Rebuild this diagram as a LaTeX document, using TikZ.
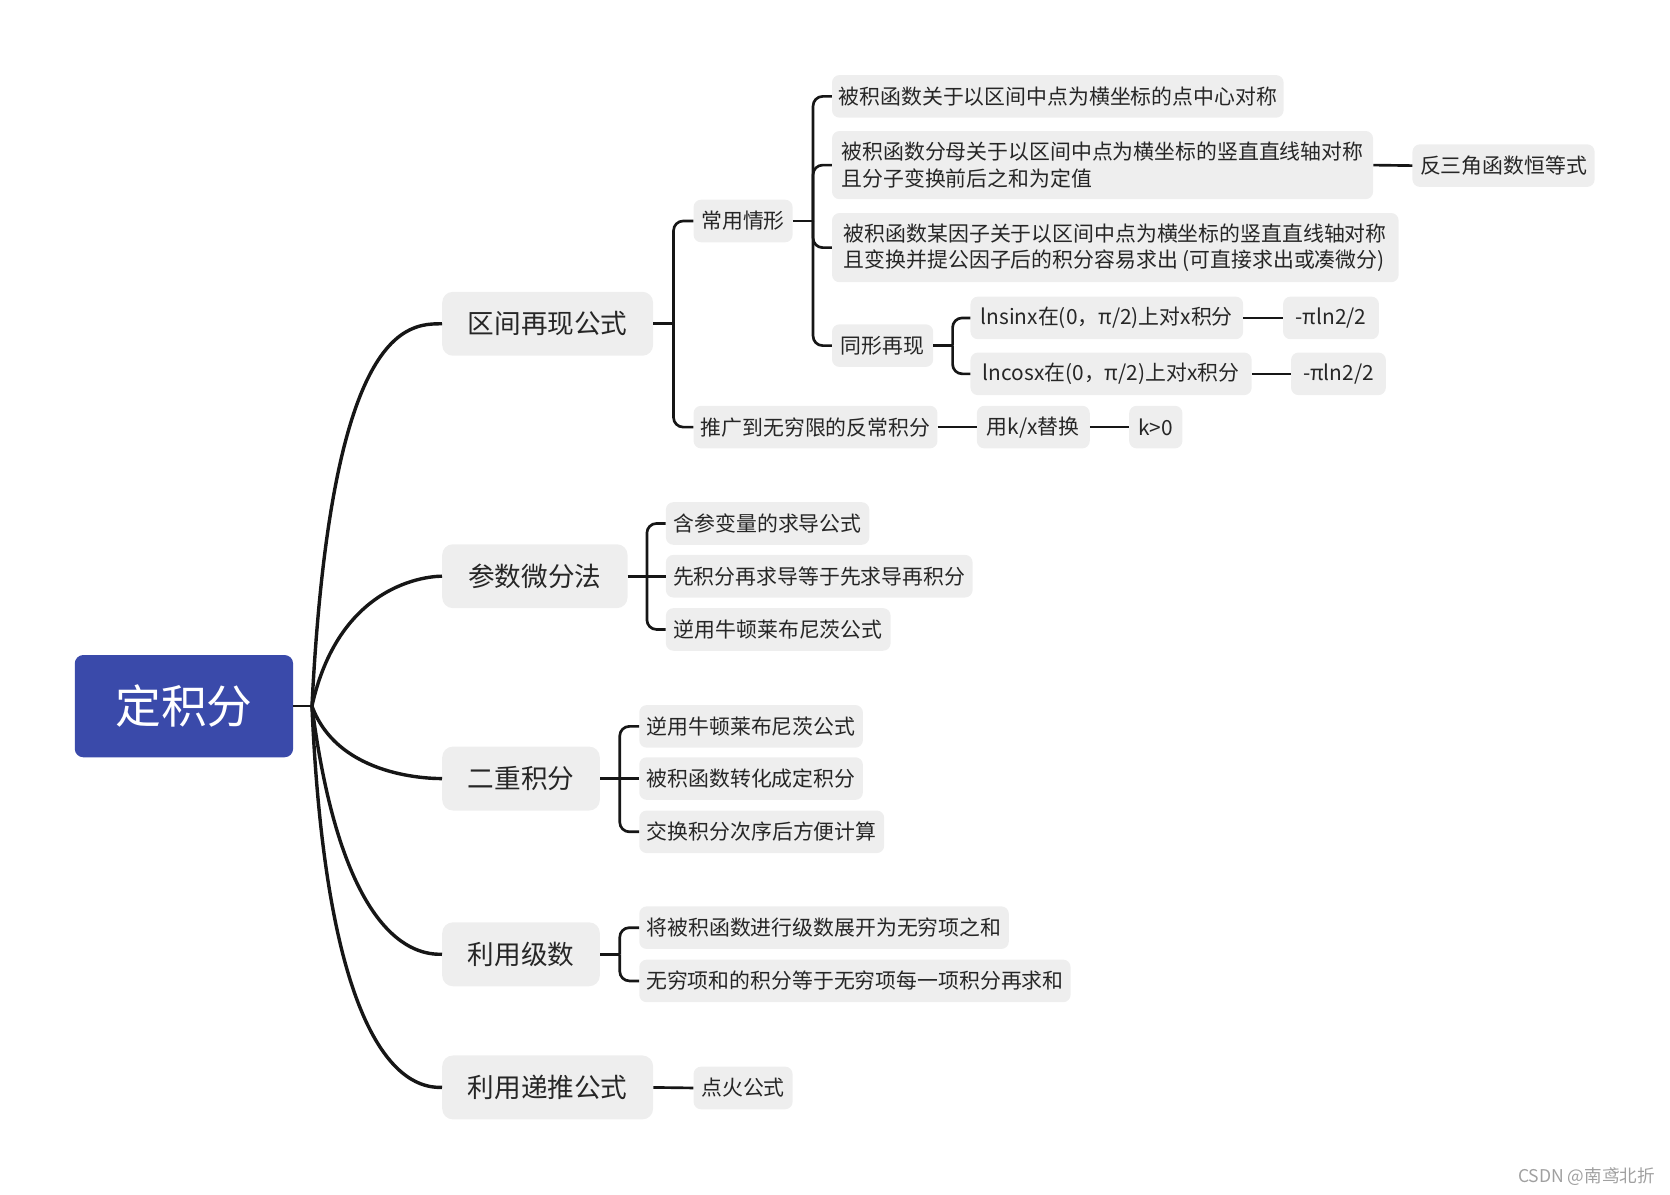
\documentclass[tikz,border=0pt]{standalone}
\usepackage{fontspec}
\setmainfont{Noto Sans CJK SC}
\usetikzlibrary{calc}
\definecolor{boxgray}{HTML}{EEEEEE}
\definecolor{rootblue}{HTML}{3A4AAA}
\definecolor{txt}{HTML}{262626}
\definecolor{linec}{HTML}{161616}
\definecolor{wmgray}{HTML}{A0A0A0}
\tikzset{
  box/.style={anchor=west, fill=boxgray, rounded corners=7pt, inner sep=0pt,
    minimum height=40pt, text=txt, font=\fontsize{19.6pt}{24.5pt}\selectfont},
  mainbox/.style={box, rounded corners=10pt, minimum height=60pt,
    font=\fontsize{25pt}{30pt}\selectfont},
  rootbox/.style={anchor=west, fill=rootblue, rounded corners=8pt, inner sep=0pt,
    text=white, font=\fontsize{43pt}{50pt}\selectfont,
    minimum width=205pt, minimum height=96pt},
  curve/.style={draw=linec, line width=3.2pt},
  conn/.style={draw=linec, line width=2.5pt, rounded corners=9pt},
}
\begin{document}
\begin{tikzpicture}[x=1pt,y=-1pt]
\useasboundingbox (0,0) rectangle (1568,1122);

% root
\node[rootbox] (root) at (70,663) {定积分};

% level 1
\node[mainbox, minimum width=198pt] (A) at (415,304) {区间再现公式};
\node[mainbox, minimum width=174pt] (B) at (415,541) {参数微分法};
\node[mainbox, minimum width=148pt] (C) at (415,731) {二重积分};
\node[mainbox, minimum width=148pt] (D) at (415,896) {利用级数};
\node[mainbox, minimum width=198pt] (E) at (415,1021) {利用递推公式};

% A branch
\node[box, minimum width=93pt] (A1) at (651,207.5) {常用情形};
\node[box, minimum width=229pt] (A2) at (651,401) {推广到无穷限的反常积分};
\node[box, minimum width=106pt] (A2a) at (917,401) {用k/x替换};
\node[box, minimum width=50pt] (A2b) at (1060,401) {k>0};

\node[box, minimum width=424pt] (A11) at (781,90.5) {被积函数关于以区间中点为横坐标的点中心对称};
\node[box, minimum width=508pt, minimum height=64pt, align=left] (A12) at (781,155)
  {被积函数分母关于以区间中点为横坐标的竖直直线轴对称\\且分子变换前后之和为定值};
\node[box, minimum width=171pt] (A12a) at (1326,155.5) {反三角函数恒等式};
\node[box, minimum width=532pt, minimum height=65pt, align=left] (A13) at (781,232.5)
  {被积函数某因子关于以区间中点为横坐标的竖直直线轴对称\\且变换并提公因子后的积分容易求出 (可直接求出或凑微分)};
\node[box, minimum width=95pt] (A14) at (781,324.5) {同形再现};
\node[box, minimum width=256pt] (A141) at (911,298.5) {lnsinx在(0，π/2)上对x积分};
\node[box, minimum width=90pt] (A141a) at (1204.5,298.5) {-πln2/2};
\node[box, minimum width=264pt] (A142) at (911,351) {lncosx在(0，π/2)上对x积分};
\node[box, minimum width=89pt] (A142a) at (1212,351) {-πln2/2};

% B branch
\node[box, minimum width=191pt] (B1) at (625,491.5) {含参变量的求导公式};
\node[box, minimum width=288pt] (B2) at (625,541) {先积分再求导等于先求导再积分};
\node[box, minimum width=211pt] (B3) at (625,591) {逆用牛顿莱布尼茨公式};

% C branch
\node[box, minimum width=210pt] (C1) at (600,682) {逆用牛顿莱布尼茨公式};
\node[box, minimum width=210pt] (C2) at (600,731) {被积函数转化成定积分};
\node[box, minimum width=230pt] (C3) at (600,781) {交换积分次序后方便计算};

% D branch
\node[box, minimum width=347pt] (D1) at (600,871) {将被积函数进行级数展开为无穷项之和};
\node[box, minimum width=405pt] (D2) at (600,921) {无穷项和的积分等于无穷项每一项积分再求和};

% E branch
\node[box, minimum width=93pt] (E1) at (651,1021.5) {点火公式};

% watermark
\node[anchor=east, inner sep=0pt, text=wmgray, font=\fontsize{16.5pt}{20pt}\selectfont] (wm) at (1554,1105) {CSDN @南鸢北折};

% root connectors
\coordinate (J) at ($(root.east)+(17.5,0)$);
\draw[conn] (root.east) -- (J);
\draw[curve] (J) .. controls ($(J |- A.west)+(18,0)$) and ($(J |- A.west)+(90,0)$) .. (A.west);
\draw[curve] (J) .. controls ($(J |- B.west)+(27,0)$) and ($(J |- B.west)+(118,0)$) .. (B.west);
\draw[curve] (J) .. controls ($(J |- C.west)+(25,0)$) and ($(J |- C.west)+(114,0)$) .. (C.west);
\draw[curve] (J) .. controls ($(J |- D.west)+(30,0)$) and ($(J |- D.west)+(105,0)$) .. (D.west);
\draw[curve] (J) .. controls ($(J |- E.west)+(15.5,0)$) and ($(J |- E.west)+(103,0)$) .. (E.west);

% A brackets
\coordinate (Ab) at ($(A.east)+(19,0)$);
\draw[conn] (A.east) -- (Ab);
\draw[conn] (Ab) |- (A1.west);
\draw[conn] (Ab) |- (A2.west);
\draw[conn] (A2.east) -- (A2a.west);
\draw[conn] (A2a.east) -- (A2b.west);

\coordinate (A1b) at ($(A1.east)+(19,0)$);
\draw[conn] (A1.east) -- (A1b);
\draw[conn] (A1b) |- (A11.west);
\draw[conn] (A1b) |- (A12.west);
\draw[conn] (A1b) |- (A13.west);
\draw[conn] (A1b) |- (A14.west);
\draw[conn] (A12.east) -- (A12a.west);

\coordinate (A14b) at ($(A14.east)+(18,0)$);
\draw[conn] (A14.east) -- (A14b);
\draw[conn] (A14b) |- (A141.west);
\draw[conn] (A14b) |- (A142.west);
\draw[conn] (A141.east) -- (A141a.west);
\draw[conn] (A142.east) -- (A142a.west);

% B bracket
\coordinate (Bb) at ($(B.east)+(18,0)$);
\draw[conn] (B.east) -- (Bb);
\draw[conn] (Bb) |- (B1.west);
\draw[conn] (Bb) -- (B2.west);
\draw[conn] (Bb) |- (B3.west);

% C bracket
\coordinate (Cb) at ($(C.east)+(18.5,0)$);
\draw[conn] (C.east) -- (Cb);
\draw[conn] (Cb) |- (C1.west);
\draw[conn] (Cb) -- (C2.west);
\draw[conn] (Cb) |- (C3.west);

% D bracket
\coordinate (Db) at ($(D.east)+(18.5,0)$);
\draw[conn] (D.east) -- (Db);
\draw[conn] (Db) |- (D1.west);
\draw[conn] (Db) |- (D2.west);

% E
\draw[conn] (E.east) -- (E1.west);
\end{tikzpicture}
\end{document}
